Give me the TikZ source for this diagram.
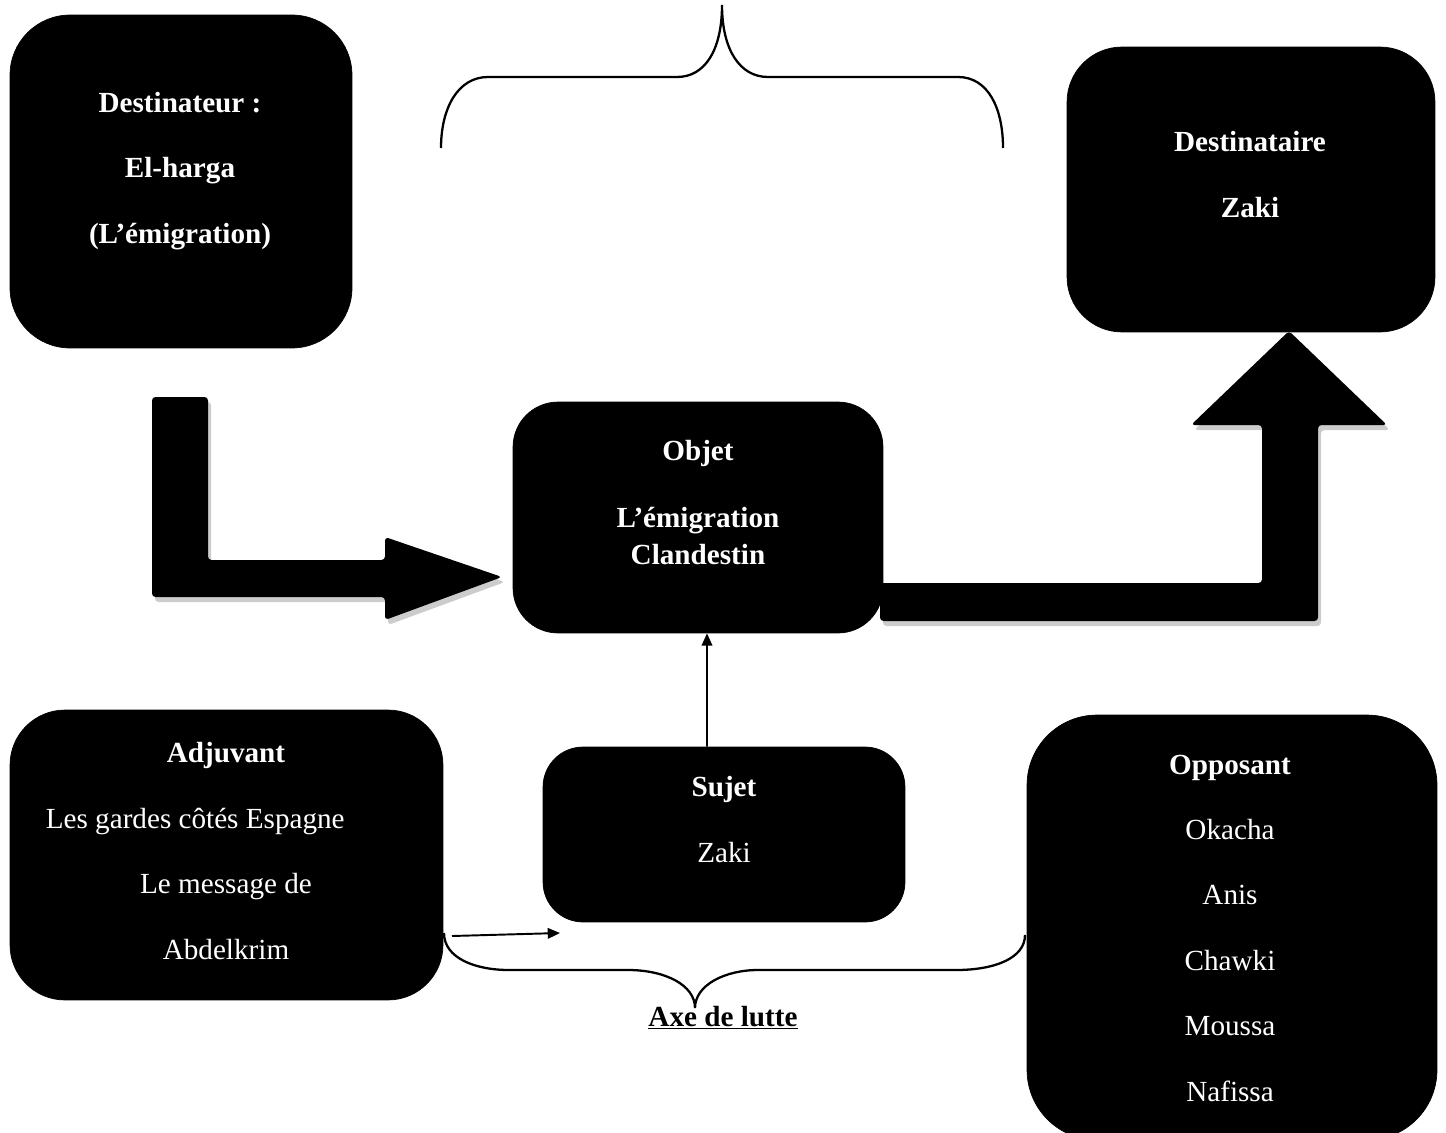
\documentclass[tikz,border=0pt]{standalone}
\usepackage{fontspec}
\setmainfont{Liberation Serif}
\usetikzlibrary{arrows.meta}

\begin{document}
\begin{tikzpicture}[x=0.02cm, y=-0.02cm, >={Triangle[length=7pt, width=6pt]},
    % boîte noire arrondie
    box/.style={
        draw=black,
        fill=black,
        rounded corners=#1,
        inner sep=0pt
    },
    box/.default=1cm,
    % texte blanc dans les boîtes (placé par la ligne du bas)
    label_txt/.style={
        text=white,
        align=center,
        anchor=base,
        font=\fontsize{16.6}{37.2}\selectfont
    },
    label_bold/.style={label_txt, font=\fontsize{16.6}{37.2}\selectfont\bfseries},
    % flèches fines
    thin_arrow/.style={->, line width=1.1pt},
    brace_line/.style={line width=1.3pt}
]
    \useasboundingbox (0,0) rectangle (1446,1132);
    \clip (0,0) rectangle (1446,1132);

    % ================== Flèches épaisses (avec ombre) ==================
    \foreach \tone/\dx/\dy in {gray!40/3/5, black/0/0} {
        \begin{scope}[shift={(\dx,\dy)}]
            % Destinateur -> Objet
            \fill[\tone, rounded corners=2pt] (152,397) -- (208,397) -- (208,560) -- (385,560)
                -- (385,537) -- (502,577) -- (385,620) -- (385,597) -- (152,597) -- cycle;
            % Objet -> Destinataire
            \fill[\tone, rounded corners=2pt] (880,583) -- (1262,583) -- (1262,425) -- (1191,425)
                -- (1289,331) -- (1387,425) -- (1318,425) -- (1318,621) -- (880,621) -- cycle;
        \end{scope}
    }

    % ================== Boîtes ==================
    \node[box=1.2cm, minimum width=6.84cm, minimum height=6.66cm] (destinateur) at (181,181.5) {};
    \node[label_bold] (destinateur_txt) at (180,243) {Destinateur :\\El-harga\\(L’émigration)};

    \node[box=1.1cm, minimum width=7.36cm, minimum height=5.7cm] (destinataire) at (1251,189.5) {};
    \node[label_bold] (destinataire_txt) at (1250,217) {Destinataire\\Zaki};

    \node[box=0.9cm, minimum width=7.4cm, minimum height=4.62cm] (objet) at (698,517.5) {};
    \node[label_bold, font=\fontsize{16.6}{21}\selectfont\bfseries] (objet_txt) at (698,564)
        {Objet\\[17pt]L’émigration\\Clandestin};

    \node[box=1.1cm, minimum width=8.66cm, minimum height=5.8cm] (adjuvant) at (226.5,855) {};
    \node[label_txt] (adjuvant_txt) at (226,959)
        {\textbf{Adjuvant}\\Les gardes côtés Espagne\hspace*{35pt}\null\\Le message de\\Abdelkrim};

    \node[box=0.8cm, minimum width=7.24cm, minimum height=3.5cm] (sujet) at (724,834.5) {};
    \node[label_txt] (sujet_txt) at (724,862) {\textbf{Sujet}\\Zaki};

    \node[box=1.4cm, minimum width=8.2cm, minimum height=8.5cm] (opposant) at (1232,927.5) {};
    \node[label_txt] (opposant_txt) at (1230,1101)
        {\textbf{Opposant}\\Okacha\\Anis\\Chawki\\Moussa\\Nafissa};

    % ================== Accolades ==================
    \draw[brace_line] (441,148) .. controls (441,108) and (458,77) .. (488,77) -- (677,77)
        .. controls (705,77) and (722,50) .. (722,5)
        .. controls (722,50) and (740,77) .. (768,77) -- (958,77)
        .. controls (988,77) and (1003,108) .. (1003,148);

    \draw[brace_line] (444,933) .. controls (444,958) and (475,970) .. (509,970) -- (628,970)
        .. controls (665,970) and (695,985) .. (695,1008)
        .. controls (695,985) and (725,970) .. (758,970) -- (956,970)
        .. controls (995,970) and (1025,958) .. (1025,935);
    \node[anchor=base, font=\fontsize{16.6}{20}\selectfont\bfseries] (axe_txt) at (723,1026)
        {\underline{Axe de lutte}};

    % ================== Flèches fines ==================
    \draw[thin_arrow] ([xshift=-0.34cm]sujet.north) -- ([xshift=0.18cm]objet.south);

    \coordinate (adj_out) at (452,936);
    \coordinate (suj_in) at (560,933);
    \draw[thin_arrow] (adj_out) -- (suj_in);

\end{tikzpicture}
\end{document}
